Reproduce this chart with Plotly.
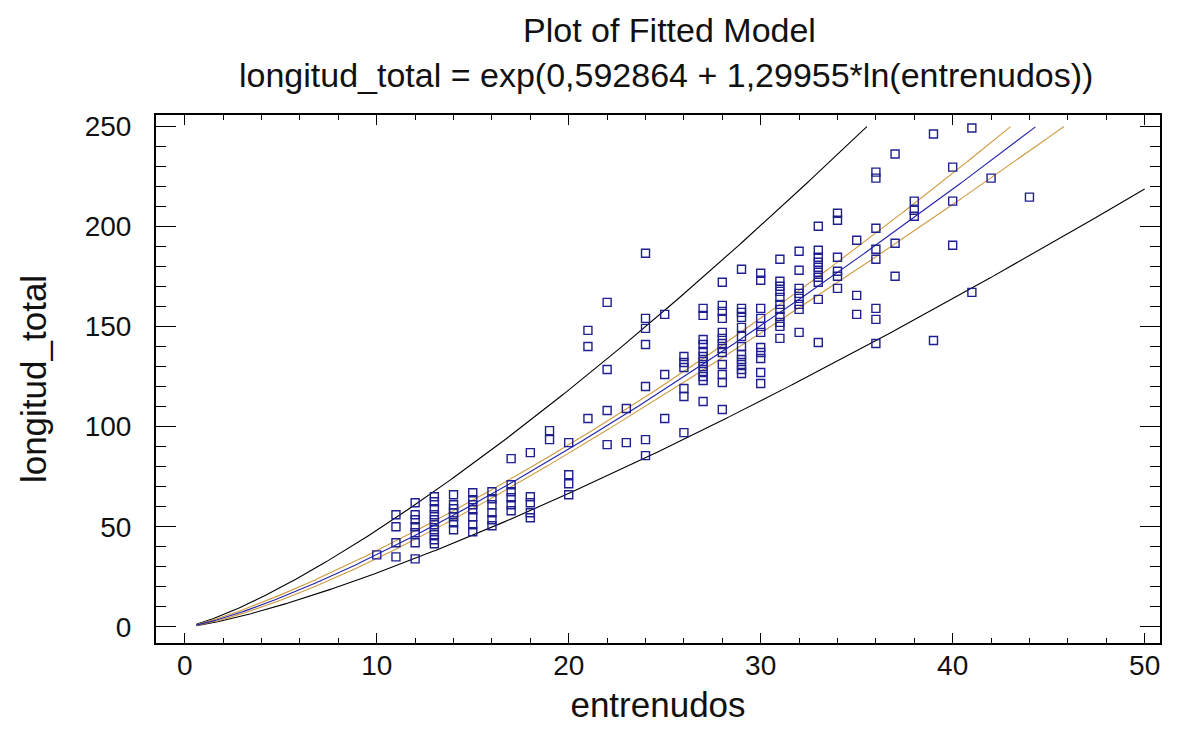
import numpy as np
import plotly.graph_objects as go

# ---- data ----
entrenudos = (
    [10] +
    [11] * 4 +
    [12] * 7 +
    [13] * 10 +
    [14] * 7 +
    [15] * 7 +
    [16] * 6 +
    [17] * 6 +
    [18] * 5 +
    [19] * 2 +
    [20] * 4 +
    [21] * 3 +
    [22] * 4 +
    [23] * 2 +
    [24] * 7 +
    [25] * 3 +
    [26] * 6 +
    [27] * 12 +
    [28] * 13 +
    [29] * 12 +
    [30] * 11 +
    [31] * 11 +
    [32] * 8 +
    [33] * 10 +
    [34] * 6 +
    [35] * 3 +
    [36] * 8 +
    [37] * 3 +
    [38] * 3 +
    [39] * 2 +
    [40] * 3 +
    [41] * 2 +
    [42] +
    [44]
)
longitud_total = [
    36,
    56, 50, 42, 35,
    62, 56, 53.5, 50, 47, 42, 34,
    65, 62.5, 59, 56, 53.5, 51, 48.5, 46, 43.5, 41.5,
    66, 61, 59, 57, 55, 52, 48.5,
    67, 63.5, 61, 58.5, 55, 51, 47.5,
    67.5, 64, 61, 57, 53.5, 50.5,
    84, 71, 67.5, 64.5, 61, 58,
    87, 65, 62, 57, 54.5,
    98, 93.5,
    92, 76, 71.5, 66,
    148, 140, 104,
    162, 128.5, 108, 91,
    109, 92,
    186.5, 154, 149, 141, 120, 93.5, 85.5,
    156, 126, 104,
    135, 132, 129.5, 119, 115, 97,
    159, 155.5, 143.5, 141, 137.5, 135, 132.5, 130, 127.5, 125, 123, 112.5,
    172, 160.5, 157.5, 154, 147, 144, 141.5, 139, 137, 131, 126, 122, 108.5,
    178.5, 159, 157, 154.5, 149.5, 145, 140, 136, 133.5, 131, 128.5, 126.5,
    176.5, 173, 159, 154, 150, 147, 139.5, 137, 134, 127, 121.5,
    183.5, 172.5, 170, 167.5, 164.5, 161, 158.5, 155, 152, 150, 144,
    187.5, 178, 169, 166.5, 164, 161, 158.5, 147,
    200, 188, 184.5, 182, 179.5, 177, 174.5, 172, 163.5, 142,
    206.5, 203, 184.5, 177.5, 175, 169,
    193, 165.5, 156,
    227, 224, 199, 188.5, 183.5, 159, 153.5, 141.5,
    236, 191.5, 175,
    212.5, 208, 205,
    246, 143,
    229.5, 212.5, 190.5,
    249, 167,
    224,
    214.5,
]

# fitted model: longitud_total = exp(a + b*ln(entrenudos))
a_coef = 0.592864
b_coef = 1.29955
t_value = 1.86
x_min, x_max, y_clip = 0.6, 50.0, 250.0

x_tick_vals = [0, 10, 20, 30, 40, 50]
y_tick_vals = [0, 50, 100, 150, 200, 250]

# ---- regression statistics in log space ----
lx = np.log(np.array(entrenudos, dtype=float))
ly = np.log(np.array(longitud_total, dtype=float))
n = len(lx)
resid = ly - (a_coef + b_coef * lx)
s = np.sqrt(np.sum(resid ** 2) / (n - 2))
mx = lx.mean()
sxx = np.sum((lx - mx) ** 2)

xg = np.linspace(x_min, x_max, 800)
lg = np.log(xg)
fit_l = a_coef + b_coef * lg
se_mean = s * np.sqrt(1.0 / n + (lg - mx) ** 2 / sxx)
se_pred = s * np.sqrt(1.0 + 1.0 / n + (lg - mx) ** 2 / sxx)


def clip(v):
    v = np.exp(v)
    return [float(q) if q <= y_clip else None for q in v]


fig = go.Figure()
line_specs = [
    (fit_l + t_value * se_pred, "#000000"),
    (fit_l - t_value * se_pred, "#000000"),
    (fit_l + 1.9 * se_mean, "#cf9a3e"),
    (fit_l - 1.9 * se_mean, "#cf9a3e"),
    (fit_l, "#2222aa"),
]
for vals, col in line_specs:
    fig.add_trace(go.Scatter(
        x=xg, y=clip(vals), mode="lines",
        line=dict(color=col, width=1.1), hoverinfo="skip", showlegend=False,
    ))

fig.add_trace(go.Scatter(
    x=entrenudos, y=longitud_total, mode="markers",
    marker=dict(symbol="square-open", size=8, color="#1f1f8f",
                line=dict(width=1.4, color="#1f1f8f")),
    showlegend=False,
))

font_family = "Liberation Sans, Arial, sans-serif"
axis_common = dict(
    showline=True, linecolor="black", linewidth=2, mirror="ticks",
    ticks="inside", tickcolor="black", tickwidth=1.3,
    showgrid=False, zeroline=False, automargin=False,
    tickfont=dict(family=font_family, size=28, color="#111111"),
)

fig.update_xaxes(
    range=[-1.5, 50.8], tickvals=x_tick_vals, ticklen=10,
    minor=dict(dtick=2, tick0=0, ticks="inside", ticklen=5, tickcolor="black", tickwidth=1.2),
    title=dict(text="entrenudos", font=dict(family=font_family, size=35, color="#111111"), standoff=13),
    ticklabelstandoff=-4,
    **axis_common,
)
fig.update_yaxes(
    range=[-8, 255.5], tickvals=y_tick_vals, ticklen=20,
    minor=dict(dtick=10, tick0=0, ticks="inside", ticklen=10, tickcolor="black", tickwidth=1.2),
    title=dict(text="longitud_total", font=dict(family=font_family, size=35, color="#111111"), standoff=27),
    ticklabelstandoff=17,
    **axis_common,
)

fig.update_layout(
    width=1180, height=744,
    margin=dict(l=148, r=28, t=107, b=109),
    paper_bgcolor="white", plot_bgcolor="white",
    annotations=[
        dict(text="Plot of Fitted Model", xref="paper", yref="paper",
             x=0.511, y=1.161, xanchor="center", yanchor="middle", showarrow=False,
             font=dict(family=font_family, size=34, color="#111111")),
        dict(text="longitud_total = exp(0,592864 + 1,29955*ln(entrenudos))",
             xref="paper", yref="paper", x=0.508, y=1.076, xanchor="center",
             yanchor="middle", showarrow=False,
             font=dict(family=font_family, size=34, color="#111111")),
    ],
)

fig.write_html("out.html")
